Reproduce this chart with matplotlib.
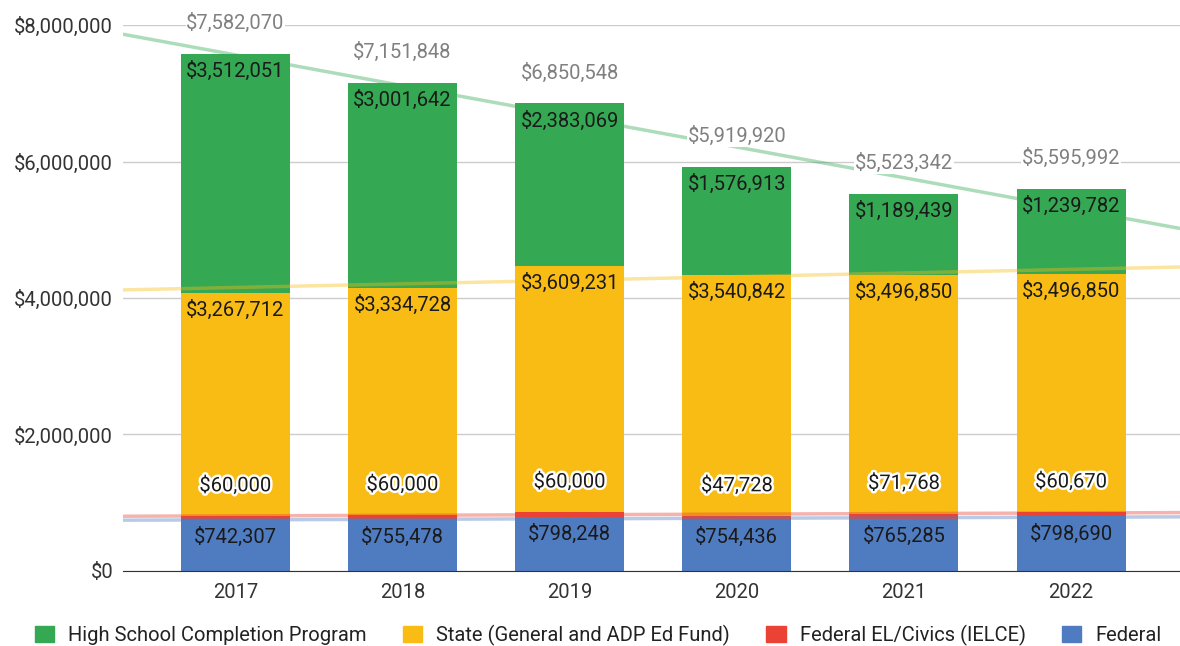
import matplotlib
matplotlib.use("Agg")
import matplotlib.pyplot as plt
import matplotlib.patheffects as pe
from matplotlib.patches import Patch
from matplotlib.ticker import FuncFormatter
import numpy as np

plt.rcParams['font.family'] = ['Roboto', 'DejaVu Sans']

# Données
years = ["2017", "2018", "2019", "2020", "2021", "2022"]
federal = [742307, 755478, 798248, 754436, 765285, 798690]
federal_el = [60000, 60000, 60000, 47728, 71768, 60670]
state = [3267712, 3334728, 3609231, 3540842, 3496850, 3496850]
hscp = [3512051, 3001642, 2383069, 1576913, 1189439, 1239782]
totals = [7582070, 7151848, 6850548, 5919920, 5523342, 5595992]

series_names = ["High School Completion Program", "State (General and ADP Ed Fund)",
                "Federal EL/Civics (IELCE)", "Federal"]
colors = {"hscp": "#34a853", "state": "#f9bc15", "el": "#ea4335", "fed": "#4f7cc1"}

x = np.arange(len(years))
w = 0.652

fig = plt.figure(figsize=(11.8, 6.46), dpi=100)
ax = fig.add_axes([0.1042, 0.1161, 0.8958, 0.8452])

fed = np.array(federal)
el = np.array(federal_el)
st = np.array(state)
hs = np.array(hscp)

b1 = fed
b2 = b1 + el
b3 = b2 + st
b4 = b3 + hs

ax.bar(x, fed, w, color=colors["fed"], zorder=2)
ax.bar(x, el, w, bottom=b1, color=colors["el"], zorder=2)
ax.bar(x, st, w, bottom=b2, color=colors["state"], zorder=2)
ax.bar(x, hs, w, bottom=b3, color=colors["hscp"], zorder=2)

# Lignes de tendance (sur les valeurs empilées)
xlim = (-0.673, 5.652)
xx = np.array(xlim)
for top, c in [(b1, colors["fed"]), (b2, colors["el"]), (b3, colors["state"]), (b4, colors["hscp"])]:
    p = np.polyfit(x, top, 1)
    ax.plot(xx, np.polyval(p, xx), color=c, alpha=0.4, lw=2.5, zorder=3,
            solid_capstyle="butt")

fs = 14.5
for i in range(len(years)):
    # étiquettes dans les segments
    ax.annotate(f"${hscp[i]:,}", (x[i], b4[i]), xytext=(0, -17), textcoords="offset pixels",
                ha="center", va="center", fontsize=fs, color="#1a1a1a", zorder=5)
    ax.annotate(f"${state[i]:,}", (x[i], b3[i]), xytext=(0, -17), textcoords="offset pixels",
                ha="center", va="center", fontsize=fs, color="#1a1a1a", zorder=5)
    ax.annotate(f"${federal_el[i]:,}", (x[i], b2[i]), xytext=(0, 31), textcoords="offset pixels",
                ha="center", va="center", fontsize=fs, color="#1a1a1a", zorder=5,
                path_effects=[pe.withStroke(linewidth=3.5, foreground="white")])
    ax.annotate(f"${federal[i]:,}", (x[i], b1[i]), xytext=(0, -17), textcoords="offset pixels",
                ha="center", va="center", fontsize=fs, color="#1a1a1a", zorder=5)
    # total
    ax.annotate(f"${totals[i]:,}", (x[i], b4[i]), xytext=(0, 31), textcoords="offset pixels",
                ha="center", va="center", fontsize=fs, color="#808080", zorder=4,
                bbox=dict(facecolor="white", edgecolor="none", pad=0.5))

ax.set_xlim(*xlim)
ax.set_ylim(0, 8e6)
ax.set_yticks([0, 2e6, 4e6, 6e6, 8e6])
ax.yaxis.set_major_formatter(FuncFormatter(lambda v, _: f"${v:,.0f}"))
ax.set_xticks(x)
ax.set_xticklabels(years)
ax.tick_params(axis="both", length=0, labelsize=14.5, labelcolor="#333333")
ax.tick_params(axis="y", pad=7)
ax.tick_params(axis="x", pad=9)
ax.grid(axis="y", color="#cccccc", lw=1, zorder=0)
ax.set_axisbelow(True)
for s in ["top", "right", "left"]:
    ax.spines[s].set_visible(False)
ax.spines["bottom"].set_color("#333333")
ax.spines["bottom"].set_zorder(4)

handles = [Patch(color=colors["hscp"]), Patch(color=colors["state"]),
           Patch(color=colors["el"]), Patch(color=colors["fed"])]
fig.legend(handles, series_names, loc="center", bbox_to_anchor=(0.507, 0.017), ncol=4,
           frameon=False, fontsize=14.5, handlelength=0.95, handleheight=0.9,
           columnspacing=1.8, handletextpad=0.7, labelcolor="#222222",
           borderpad=0, borderaxespad=0)

fig.savefig("out.png", dpi=100)
